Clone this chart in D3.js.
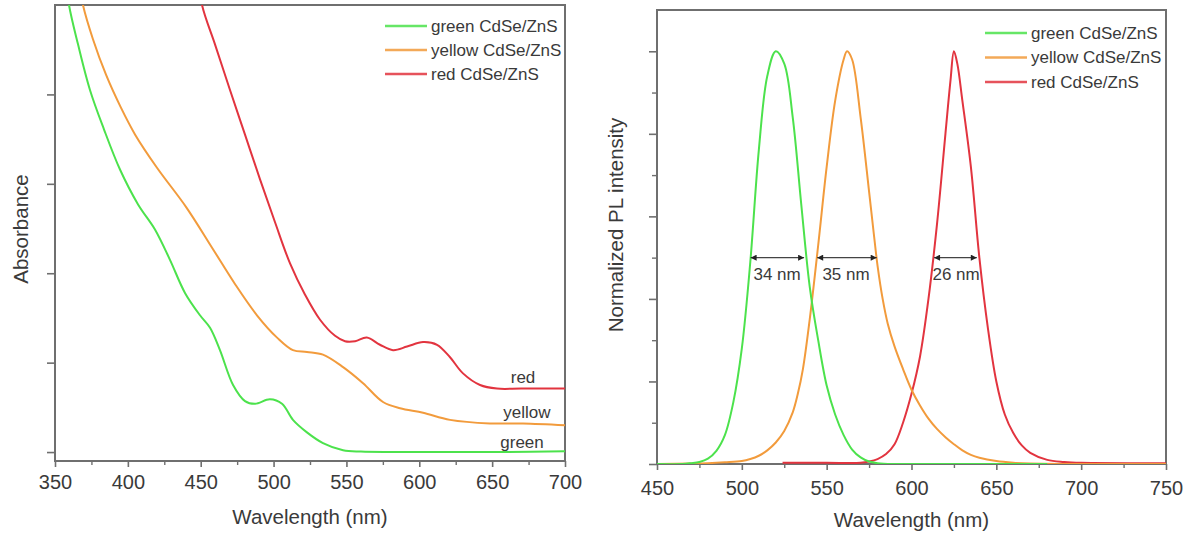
<!DOCTYPE html>
<html><head><meta charset="utf-8">
<script src="https://cdn.jsdelivr.net/npm/d3@7"></script>
<style>
body{margin:0;background:#fff}
svg{display:block}
text{font-family:"Liberation Sans",Arial,Helvetica,sans-serif;fill:#3a3a3a}
</style>
</head><body>
<svg id="c" width="1192" height="537"></svg>
<script>
// ---------- shared ----------
const seriesNames = ["green CdSe/ZnS", "yellow CdSe/ZnS", "red CdSe/ZnS"];
const shortNames = ["green", "yellow", "red"];
const colors = ["#4ce24c", "#f29b3c", "#e2343f"];

// ---------- absorbance panel (left) ----------
const absTicksX = [350, 400, 450, 500, 550, 600, 650, 700];
const absMinorX = [375, 425, 475, 525, 575, 625, 675];
const absTicksY = [0, 1, 2, 3, 4];

const absGreenWl  = [355, 359.6, 365.8, 374, 383.6, 394.6, 407, 418.6, 428.9, 439.2, 449.5, 456.4, 463.2, 472.2, 480.4, 487.3, 497.5, 505.8, 513.3, 522.9, 533.9, 547.7, 560, 580, 620, 660, 700];
const absGreenVal = [5.55, 5.0, 4.56, 4.05, 3.61, 3.16, 2.77, 2.49, 2.15, 1.78, 1.53, 1.39, 1.14, 0.75, 0.57, 0.54, 0.59, 0.54, 0.36, 0.22, 0.10, 0.02, 0.005, 0.0, 0.0, 0.0, 0.01];

const absYellowWl  = [364, 369.2, 376, 385, 395, 405, 420, 440, 458, 473.5, 488.6, 502.4, 513.3, 522.9, 533.9, 547.7, 561.4, 575.1, 586.8, 602.6, 621.1, 648.5, 671.2, 700];
const absYellowVal = [5.5, 5.0, 4.62, 4.22, 3.86, 3.55, 3.18, 2.74, 2.28, 1.88, 1.53, 1.28, 1.14, 1.12, 1.09, 0.95, 0.77, 0.56, 0.49, 0.44, 0.36, 0.32, 0.32, 0.30];

const absRedWl  = [447, 450.9, 459.8, 470.1, 480.4, 490.7, 501, 511.3, 521.6, 531.9, 542.2, 549, 556, 564, 573, 582, 591.6, 602.6, 612.2, 621.1, 630, 641.7, 653.3, 670, 700];
const absRedVal = [5.45, 5.0, 4.56, 4.05, 3.55, 3.05, 2.57, 2.11, 1.76, 1.48, 1.30, 1.24, 1.24, 1.28, 1.20, 1.14, 1.18, 1.23, 1.20, 1.06, 0.88, 0.75, 0.71, 0.71, 0.71];

const absLabelWl  = [670.5, 673.9, 671.2];
const absLabelVal = [0.11, 0.44, 0.83];

// ---------- PL panel (right) ----------
const plTicksX = [450, 500, 550, 600, 650, 700, 750];
const plMinorX = [475, 525, 575, 625, 675, 725];
const plTicksY = [0, 0.2, 0.4, 0.6, 0.8, 1.0];
const plMinorY = [0.1, 0.3, 0.5, 0.7, 0.9];

const plGreenWl  = [450, 465, 470, 475, 480, 485, 490, 495, 500, 505, 510, 515, 520, 525, 530, 535, 540, 545, 550, 555, 560, 565, 570, 575, 580, 590, 620, 650, 680];
const plGreenVal = [0, 0, 0.002, 0.005, 0.013, 0.032, 0.07, 0.15, 0.28, 0.49, 0.76, 0.94, 1.0, 0.97, 0.84, 0.63, 0.43, 0.30, 0.19, 0.12, 0.07, 0.035, 0.016, 0.006, 0.002, 0, 0, 0, 0];

const plYellowWl  = [450, 470, 480, 490, 500, 505, 510, 515, 520, 525, 530, 533, 536, 540, 545, 550, 555, 560, 562, 565, 570, 575, 578, 580, 583, 586, 590, 595, 600, 605, 610, 615, 620, 625, 630, 635, 640, 650, 660, 670, 690, 720, 750];
const plYellowVal = [0, 0.001, 0.002, 0.004, 0.007, 0.012, 0.02, 0.033, 0.052, 0.08, 0.125, 0.17, 0.23, 0.35, 0.53, 0.72, 0.88, 0.98, 1.0, 0.98, 0.84, 0.66, 0.55, 0.48, 0.40, 0.34, 0.285, 0.23, 0.18, 0.142, 0.11, 0.085, 0.065, 0.048, 0.033, 0.022, 0.015, 0.007, 0.003, 0.001, 0, 0, 0];

const plRedWl  = [524, 550, 570, 575, 580, 585, 590, 595, 600, 605, 610, 615, 620, 623, 625, 627, 630, 635, 640, 645, 650, 655, 660, 665, 670, 680, 690, 700, 750];
const plRedVal = [0.003, 0.003, 0.003, 0.006, 0.012, 0.024, 0.048, 0.10, 0.17, 0.26, 0.40, 0.58, 0.80, 0.93, 1.0, 0.97, 0.88, 0.72, 0.50, 0.33, 0.20, 0.12, 0.075, 0.045, 0.027, 0.01, 0.005, 0.003, 0.002];

const fwhmStart = [505.2, 544.4, 613.3];
const fwhmEnd   = [536.7, 579.5, 638.5];
const fwhmLevel = 0.5;
const fwhmLabels = ["34 nm", "35 nm", "26 nm"];
const fwhmLabelWl = [520.8, 561.4, 626.3];

// ---------- drawing ----------
const svg = d3.select("#c");
const axisColor = "#6f6f6f";

const defs = svg.append("defs");
defs.append("marker").attr("id", "ah")
  .attr("viewBox", "0 0 10 10").attr("refX", 10).attr("refY", 5)
  .attr("markerWidth", 7).attr("markerHeight", 6)
  .attr("markerUnits", "userSpaceOnUse")
  .attr("orient", "auto-start-reverse")
  .append("path").attr("d", "M0,0 L10,5 L0,10 z").attr("fill", "#222");

function panel(cfg) {
  const x = d3.scaleLinear(cfg.xDomain, [cfg.left, cfg.right]);
  const y = d3.scaleLinear(cfg.yDomain, [cfg.bottom, cfg.top]);
  const g = svg.append("g");

  defs.append("clipPath").attr("id", cfg.id + "clip")
    .append("rect").attr("x", cfg.left).attr("y", cfg.top)
    .attr("width", cfg.right - cfg.left).attr("height", cfg.bottom - cfg.top);

  const xa = g.append("g").attr("transform", `translate(0,${cfg.bottom})`)
    .call(d3.axisBottom(x).tickValues(cfg.xTicks).tickSize(6).tickSizeOuter(0)
      .tickPadding(cfg.xPad).tickFormat(d3.format("d")));
  xa.select(".domain").remove();
  xa.selectAll("line").attr("stroke", axisColor).attr("stroke-width", 1.6);
  xa.selectAll("text").attr("font-size", 20).attr("fill", "#3a3a3a")
    .style("font-family", '"Liberation Sans",Arial,sans-serif');
  const xm = g.append("g").attr("transform", `translate(0,${cfg.bottom})`)
    .call(d3.axisBottom(x).tickValues(cfg.xMinor).tickSize(4).tickSizeOuter(0).tickFormat(""));
  xm.select(".domain").remove();
  xm.selectAll("line").attr("stroke", axisColor).attr("stroke-width", 1.4);

  const ya = g.append("g").attr("transform", `translate(${cfg.left},0)`)
    .call(d3.axisLeft(y).tickValues(cfg.yTicks).tickSize(8).tickSizeOuter(0).tickFormat(""));
  ya.select(".domain").remove();
  ya.selectAll("line").attr("stroke", axisColor).attr("stroke-width", 1.6);
  if (cfg.yMinor) {
    const ym = g.append("g").attr("transform", `translate(${cfg.left},0)`)
      .call(d3.axisLeft(y).tickValues(cfg.yMinor).tickSize(5).tickSizeOuter(0).tickFormat(""));
    ym.select(".domain").remove();
    ym.selectAll("line").attr("stroke", axisColor).attr("stroke-width", 1.4);
  }

  g.append("rect").attr("x", cfg.left).attr("y", cfg.top)
    .attr("width", cfg.right - cfg.left).attr("height", cfg.bottom - cfg.top)
    .attr("fill", "none").attr("stroke", axisColor).attr("stroke-width", 2);

  g.append("text").attr("x", (cfg.left + cfg.right) / 2).attr("y", cfg.xTitleY)
    .attr("text-anchor", "middle").attr("font-size", 20.5).text("Wavelength (nm)");
  g.append("text").attr("transform", `translate(${cfg.yTitleX},${cfg.yTitleY}) rotate(-90)`)
    .attr("text-anchor", "middle").attr("dominant-baseline", "central")
    .attr("font-size", 20.5).text(cfg.yTitle);

  const line = d3.line().x(d => x(d[0])).y(d => y(d[1])).curve(d3.curveCatmullRom.alpha(0.5));
  const cg = g.append("g").attr("clip-path", `url(#${cfg.id}clip)`);
  cfg.series.forEach(s => {
    const pts = s.wl.map((w, k) => [w, s.val[k]]);
    cg.append("path").attr("d", line(pts)).attr("fill", "none")
      .attr("stroke", colors[s.ci]).attr("stroke-width", 2).attr("stroke-linejoin", "round");
  });

  const lg = g.append("g");
  seriesNames.forEach((n, i) => {
    const yy = cfg.legendY + i * cfg.legendStep;
    lg.append("line").attr("x1", cfg.legendX).attr("x2", cfg.legendX + 42)
      .attr("y1", yy).attr("y2", yy).attr("stroke", colors[i]).attr("stroke-width", 2.5).attr("opacity", 0.85);
    lg.append("text").attr("x", cfg.legendX + 46).attr("y", yy)
      .attr("dominant-baseline", "central").attr("font-size", 17).text(n);
  });
  return {x, y, g};
}

const A = panel({
  id: "abs", left: 55, right: 565, top: 5, bottom: 461,
  xDomain: [350, 700], yDomain: [-0.1, 5.0],
  xTicks: absTicksX, xMinor: absMinorX, yTicks: absTicksY, yMinor: null,
  xPad: 8, xTitleY: 524, yTitleX: 20, yTitleY: 229, yTitle: "Absorbance",
  legendX: 385, legendY: 26, legendStep: 24,
  series: [
    {wl: absGreenWl, val: absGreenVal, ci: 0},
    {wl: absYellowWl, val: absYellowVal, ci: 1},
    {wl: absRedWl, val: absRedVal, ci: 2}
  ]
});
shortNames.forEach((n, i) => {
  A.g.append("text").attr("x", A.x(absLabelWl[i])).attr("y", A.y(absLabelVal[i]))
    .attr("text-anchor", "middle").attr("dominant-baseline", "central")
    .attr("font-size", 17).text(n);
});

const P = panel({
  id: "pl", left: 657, right: 1166, top: 10, bottom: 464,
  xDomain: [450, 750], yDomain: [0, 1.1],
  xTicks: plTicksX, xMinor: plMinorX, yTicks: plTicksY, yMinor: plMinorY,
  xPad: 11, xTitleY: 527, yTitleX: 615, yTitleY: 225, yTitle: "Normalized PL intensity",
  legendX: 985, legendY: 33, legendStep: 24.5,
  series: [
    {wl: plRedWl, val: plRedVal, ci: 2},
    {wl: plYellowWl, val: plYellowVal, ci: 1},
    {wl: plGreenWl, val: plGreenVal, ci: 0}
  ]
});
fwhmLabels.forEach((t, i) => {
  P.g.append("line").attr("x1", P.x(fwhmStart[i])).attr("x2", P.x(fwhmEnd[i]))
    .attr("y1", P.y(fwhmLevel)).attr("y2", P.y(fwhmLevel))
    .attr("stroke", "#444").attr("stroke-width", 1.2)
    .attr("marker-start", "url(#ah)").attr("marker-end", "url(#ah)");
  P.g.append("text").attr("x", P.x(fwhmLabelWl[i])).attr("y", P.y(fwhmLevel) + 22)
    .attr("text-anchor", "middle").attr("font-size", 17).text(t);
});
</script>
</body></html>
